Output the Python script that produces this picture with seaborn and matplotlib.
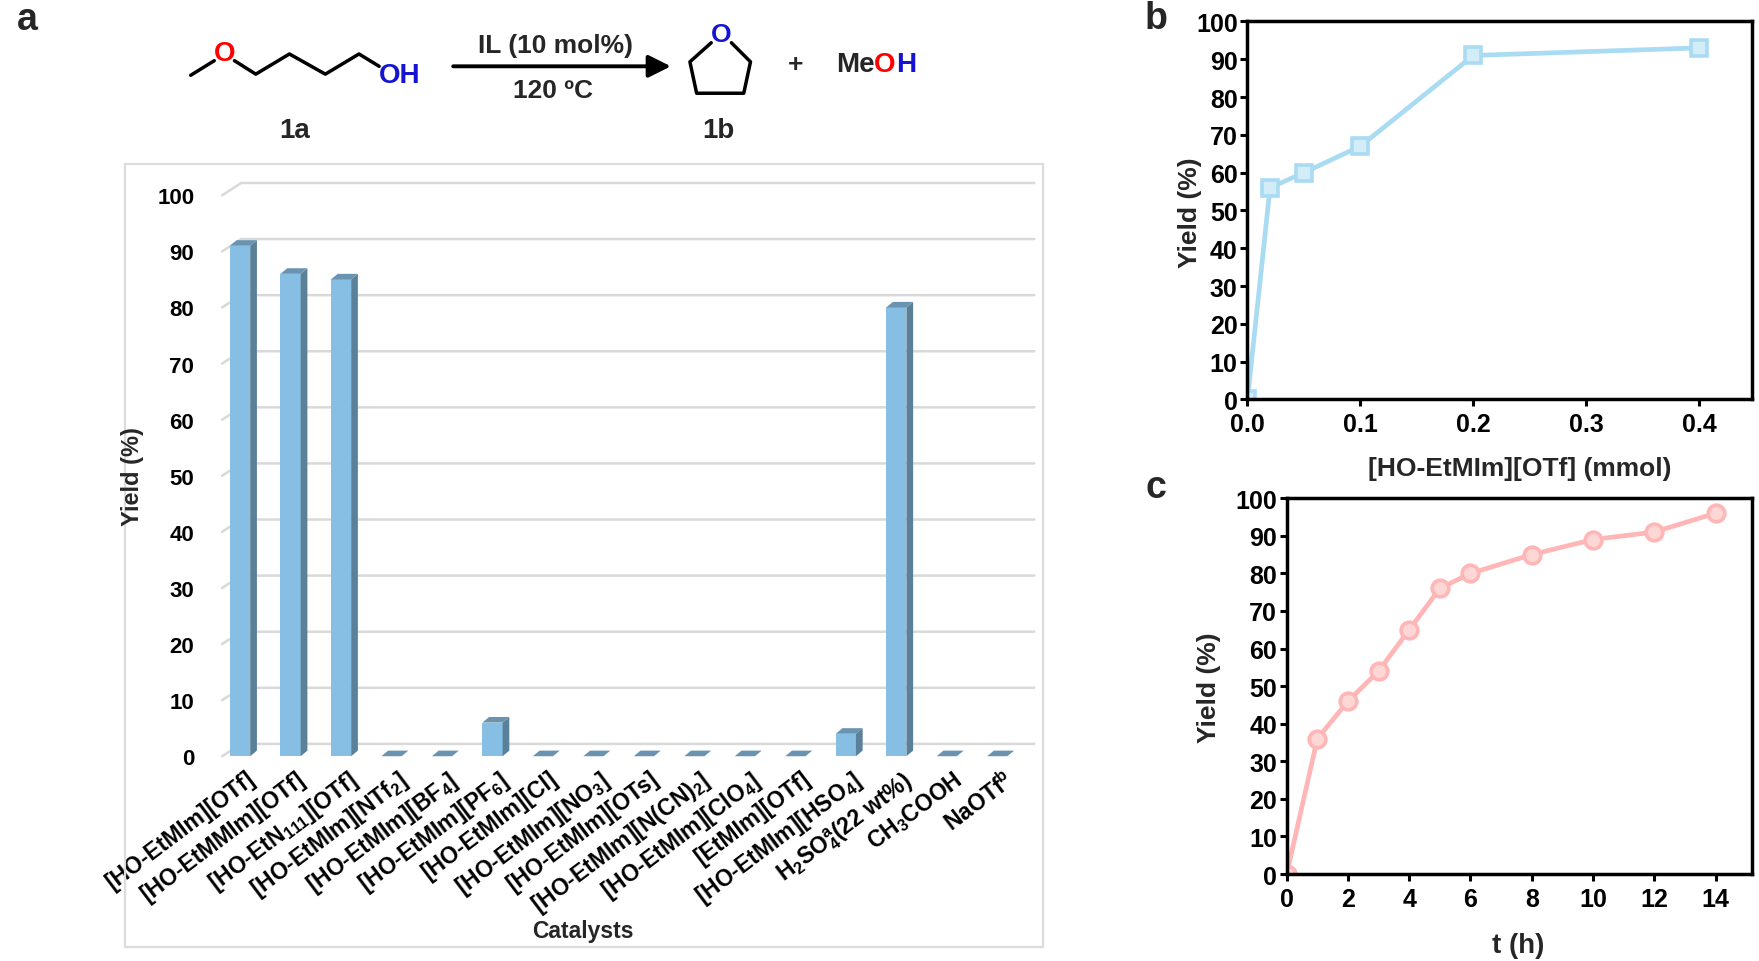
import matplotlib
matplotlib.use("Agg")
import numpy as np
import pandas as pd
import seaborn as sns
import matplotlib.pyplot as plt
from matplotlib import font_manager
from matplotlib.patches import Polygon, Rectangle
from matplotlib.transforms import ScaledTranslation

# ---------------- data ----------------
catalysts = [
    "[HO-EtMIm][OTf]", "[HO-EtMMIm][OTf]", "[HO-EtN$_{111}$][OTf]",
    "[HO-EtMIm][NTf$_2$]", "[HO-EtMIm][BF$_4$]", "[HO-EtMIm][PF$_6$]",
    "[HO-EtMIm][Cl]", "[HO-EtMIm][NO$_3$]", "[HO-EtMIm][OTs]",
    "[HO-EtMIm][N(CN)$_2$]", "[HO-EtMIm][ClO$_4$]", "[EtMIm][OTf]",
    "[HO-EtMIm][HSO$_4$]", "H$_2$SO$_4^a$(22 wt%)", "CH$_3$COOH", "NaOTf$^b$",
]
yields_a = [91, 86, 85, 0, 0, 6, 0, 0, 0, 0, 0, 0, 4, 80, 0, 0]
yticks_a = list(range(0, 101, 10))

amount_mmol = [0.0, 0.02, 0.05, 0.1, 0.2, 0.4]
yields_b = [0, 56, 60, 67, 91, 93]
xticks_b = [0.0, 0.1, 0.2, 0.3, 0.4]

time_h = [0, 1, 2, 3, 4, 5, 6, 8, 10, 12, 14]
yields_c = [0, 36, 46, 54, 65, 76, 80, 85, 89, 91, 96]
xticks_c = list(range(0, 15, 2))
yticks_bc = list(range(0, 101, 10))

# ---------------- style ----------------
sns.set_theme(style="ticks")
names = {f.name for f in font_manager.fontManager.ttflist}
MAIN = "Liberation Sans" if "Liberation Sans" in names else "DejaVu Sans"
plt.rcParams["font.family"] = [MAIN, "DejaVu Sans"]
plt.rcParams["mathtext.fontset"] = "custom"
plt.rcParams["mathtext.rm"] = MAIN + ":bold"
plt.rcParams["mathtext.it"] = MAIN + ":bold"
plt.rcParams["mathtext.bf"] = MAIN + ":bold"

W, H = 1759, 962
S = 1759 / 1568.0          # layout units -> pixels
WL, HL = W / S, H / S      # figure size in layout units
fig = plt.figure(figsize=(W / 100, H / 100), dpi=100)
fig.patch.set_facecolor("white")


def add_ax(l, t, r, b, **kw):
    return fig.add_axes([l / WL, 1 - b / HL, (r - l) / WL, (b - t) / HL], **kw)


def ftext(x, y, s, **kw):
    return fig.text(x / WL, 1 - y / HL, s, **kw)


FRONT = "#87bfe4"
SIDE = "#5a8199"
TOP = "#6a93af"
GRID = "#d9d9d9"

# ---------------- panel a: box ----------------
fig.patches.append(Rectangle((111 / WL, 1 - 845 / HL), (930 - 111) / WL, (845 - 147) / HL,
                             transform=fig.transFigure, fill=False,
                             edgecolor="#dcdcdc", lw=1.6, zorder=0))

axa = add_ax(198, 175, 905, 675)
axa.set_facecolor("none")
df = pd.DataFrame({"Catalyst": catalysts, "Yield": yields_a})
sns.barplot(data=df, x="Catalyst", y="Yield", order=catalysts, color=FRONT,
            saturation=1, width=0.4, errorbar=None, linewidth=0, ax=axa, zorder=3)
axa.set_xlim(-0.356, 15.356)
axa.set_ylim(0, 100)
for s in axa.spines.values():
    s.set_visible(False)
axa.set_xlabel("")
axa.set_ylabel("")
axa.set_yticks(yticks_a)
axa.set_yticklabels([str(v) for v in yticks_a], fontsize=16, fontweight="bold")
axa.tick_params(axis="both", length=0, colors="black")
axa.tick_params(axis="y", pad=20)
axa.set_xticks(range(len(catalysts)))
axa.set_xticklabels(catalysts, rotation=37, ha="right", va="top",
                    rotation_mode="anchor", fontsize=16.5, fontweight="bold")
for lab in axa.get_xticklabels():
    lab.set_transform(lab.get_transform() +
                      ScaledTranslation(5 * S / 100, -5 * S / 100, fig.dpi_scale_trans))

to_disp = axa.transData.transform
to_data = axa.transData.inverted().transform

# back-wall gridlines with floor diagonal
GDX, GDY = 17 * S, 11 * S
x_lo, x_hi = axa.get_xlim()
for v in yticks_a:
    p = to_disp((x_lo, v))
    q = to_disp((x_hi, v))
    pts = np.array([p, p + (GDX, GDY), q + (GDX, GDY)])
    d = to_data(pts)
    axa.plot(d[:, 0], d[:, 1], color=GRID, lw=1.8, clip_on=False, zorder=1)

# 3D faces of the bars
DX, DY = 6 * S, 5 * S
for p in list(axa.patches):
    x0, w, h = p.get_x(), p.get_width(), p.get_height()
    (dx0, dy0), (dx1, dy1) = to_disp([(x0, 0), (x0 + w, h)])
    side = [(dx1, dy0), (dx1 + DX, dy0 + DY), (dx1 + DX, dy1 + DY), (dx1, dy1)]
    top = [(dx0, dy1), (dx1, dy1), (dx1 + DX, dy1 + DY), (dx0 + DX, dy1 + DY)]
    axa.add_patch(Polygon(to_data(side), closed=True, fc=SIDE, ec="none",
                          clip_on=False, zorder=3))
    axa.add_patch(Polygon(to_data(top), closed=True, fc=TOP, ec="none",
                          clip_on=False, zorder=3))

ftext(118, 425, "Yield (%)", rotation=90, ha="center", va="center",
      fontsize=17, fontweight="bold")
ftext(520, 830, "Catalysts", ha="center", va="center", fontsize=16.5, fontweight="bold")


# ---------------- panels b, c ----------------
def style_xy(ax, xt, xfmt, xlim):
    ax.set_xlim(*xlim)
    ax.set_ylim(0, 100)
    ax.set_xticks(xt)
    ax.set_xticklabels([xfmt(v) for v in xt], fontsize=18, fontweight="bold")
    ax.set_yticks(yticks_bc)
    ax.set_yticklabels([str(v) for v in yticks_bc], fontsize=18, fontweight="bold")
    ax.tick_params(axis="both", direction="out", length=5, width=2.2, colors="black",
                   bottom=True, left=True, top=False, right=False)
    ax.tick_params(axis="x", pad=4)
    ax.tick_params(axis="y", pad=2)
    for s in ax.spines.values():
        s.set_visible(True)
        s.set_linewidth(2.5)
        s.set_color("black")
    ax.set_xlabel("")
    ax.set_ylabel("")
    ax.set_facecolor("white")


axb = add_ax(1112, 20, 1562, 357)
sns.lineplot(x=amount_mmol, y=yields_b, ax=axb, color="#a9dcf3", lw=3.4,
             marker="s", markersize=11, markerfacecolor="#d2ecf8",
             markeredgecolor="#a9dcf3", markeredgewidth=2.6)
style_xy(axb, xticks_b, lambda v: f"{v:.1f}", (0, 0.447))

axc = add_ax(1147, 445, 1562, 780)
sns.lineplot(x=time_h, y=yields_c, ax=axc, color="#ffb6b6", lw=3.4,
             marker="o", markersize=12, markerfacecolor="#fdd6d6",
             markeredgecolor="#ffb6b6", markeredgewidth=2.6)
style_xy(axc, xticks_c, lambda v: f"{v:d}", (0, 15.2))

LAB = dict(fontsize=19, fontweight="bold")
ftext(1061, 190, "Yield (%)", rotation=90, ha="center", va="center", **LAB)
ftext(1355, 418, "[HO-EtMIm][OTf] (mmol)", ha="center", va="center", **LAB)
ftext(1078, 613, "Yield (%)", rotation=90, ha="center", va="center", **LAB)
ftext(1353, 843, "t (h)", ha="center", va="center", fontsize=20, fontweight="bold")

# panel letters
for letter, (x, y) in {"a": (24, 18), "b": (1030, 17), "c": (1030, 435)}.items():
    ftext(x, y, letter, ha="center", va="center", fontsize=27, fontweight="bold")

# ---------------- reaction scheme (layout units) ----------------
axs = fig.add_axes([0, 0, 1, 1], zorder=10)
axs.set_xlim(0, WL)
axs.set_ylim(HL, 0)
axs.axis("off")
axs.set_facecolor("none")
RED, BLUE = "#ff0000", "#1414d2"
lk = dict(color="black", lw=2.5, solid_capstyle="round")
SCH = dict(fontweight="bold")

axs.plot([170, 191], [68, 55], **lk)
axs.text(200, 48, "O", color=RED, fontsize=20, ha="center", va="center", **SCH)
axs.plot([209, 228, 258, 290, 320, 338], [55, 67, 49, 67, 49, 60], **lk)
axs.text(338, 68, "OH", color=BLUE, fontsize=20, ha="left", va="center", **SCH)

axs.annotate("", xy=(598, 60), xytext=(404, 60),
             arrowprops=dict(arrowstyle="-|>", lw=2.8, color="black", mutation_scale=34,
                             shrinkA=0, shrinkB=0))
axs.text(495, 41, "IL (10 mol%)", fontsize=19, ha="center", va="center", **SCH)
axs.text(493, 81, "120 ºC", fontsize=19, ha="center", va="center", **SCH)

axs.text(643, 31, "O", color=BLUE, fontsize=19, ha="center", va="center", **SCH)
axs.plot([652, 669, 663, 621, 615, 634], [39, 56, 84, 84, 56, 39], **lk)

axs.text(709, 58, "+", fontsize=19, ha="center", va="center", **SCH)
t1 = axs.text(745, 58, "Me", fontsize=20, ha="left", va="center", **SCH)
t2 = axs.annotate("O", xy=(1, 0.5), xycoords=t1, color=RED, fontsize=20,
                  ha="left", va="center", **SCH)
axs.annotate("H", xy=(1, 0.5), xycoords=t2, color=BLUE, fontsize=20,
             ha="left", va="center", **SCH)

axs.text(263, 117, "1a", fontsize=20, ha="center", va="center", **SCH)
axs.text(640, 117, "1b", fontsize=20, ha="center", va="center", **SCH)

fig.savefig("out.png", dpi=100, facecolor="white")
